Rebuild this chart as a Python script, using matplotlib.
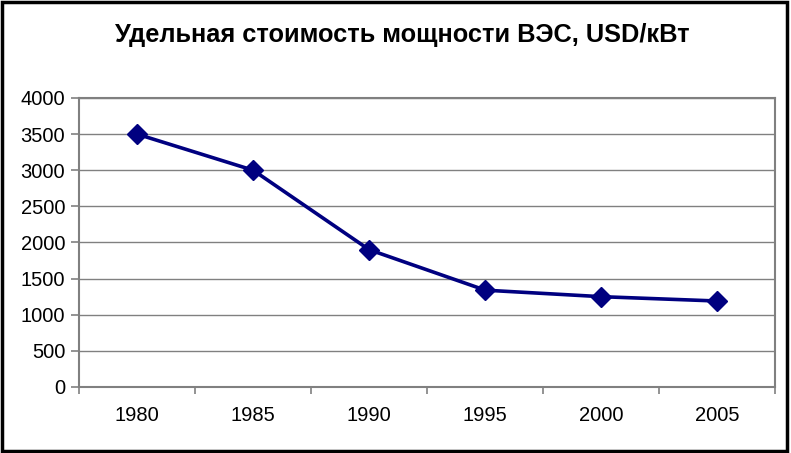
import matplotlib
matplotlib.use("Agg")
import matplotlib.pyplot as plt
from matplotlib.patches import Rectangle

years = ["1980", "1985", "1990", "1995", "2000", "2005"]
cost = [3500, 3000, 1900, 1340, 1250, 1190]
yticks = [0, 500, 1000, 1500, 2000, 2500, 3000, 3500, 4000]

plt.rcParams["font.family"] = ["Liberation Sans", "DejaVu Sans"]

fig = plt.figure(figsize=(7.91, 4.53), dpi=100)
ax = fig.add_axes([0.0999, 0.1457, 0.8805, 0.638])

x = list(range(len(years)))
ax.plot(x, cost, color="#000080", lw=2.6, marker="D", markersize=10,
        markerfacecolor="#000080", markeredgecolor="#000080", zorder=3)

ax.set_xlim(-0.5, len(years) - 0.5)
ax.set_ylim(0, 4000)
ax.set_yticks(yticks)
ax.set_yticklabels([str(v) for v in yticks], fontsize=14.5)
ax.set_xticks(x)
ax.set_xticklabels(years, fontsize=14.5)
ax.set_xticks([i - 0.5 for i in range(len(years) + 1)], minor=True)
ax.tick_params(axis="x", which="major", length=0, pad=14)
ax.tick_params(axis="x", which="minor", length=5, color="#808080", width=1.2)
ax.tick_params(axis="y", length=6, color="#808080", width=1.2, pad=4)

ax.yaxis.grid(True, color="#808080", lw=1)
ax.set_axisbelow(True)
for s in ax.spines.values():
    s.set_color("#808080")
    s.set_linewidth(1.5)

fig.text(0.508, 0.922, "Удельная стоимость мощности ВЭС, USD/кВт",
         ha="center", va="center", fontsize=18.3, fontweight="bold")

fig.patches.append(Rectangle((0.002, 0.004), 0.993, 0.992, transform=fig.transFigure,
                             fill=False, edgecolor="black", lw=2.5))

fig.savefig("out.png", dpi=100)
